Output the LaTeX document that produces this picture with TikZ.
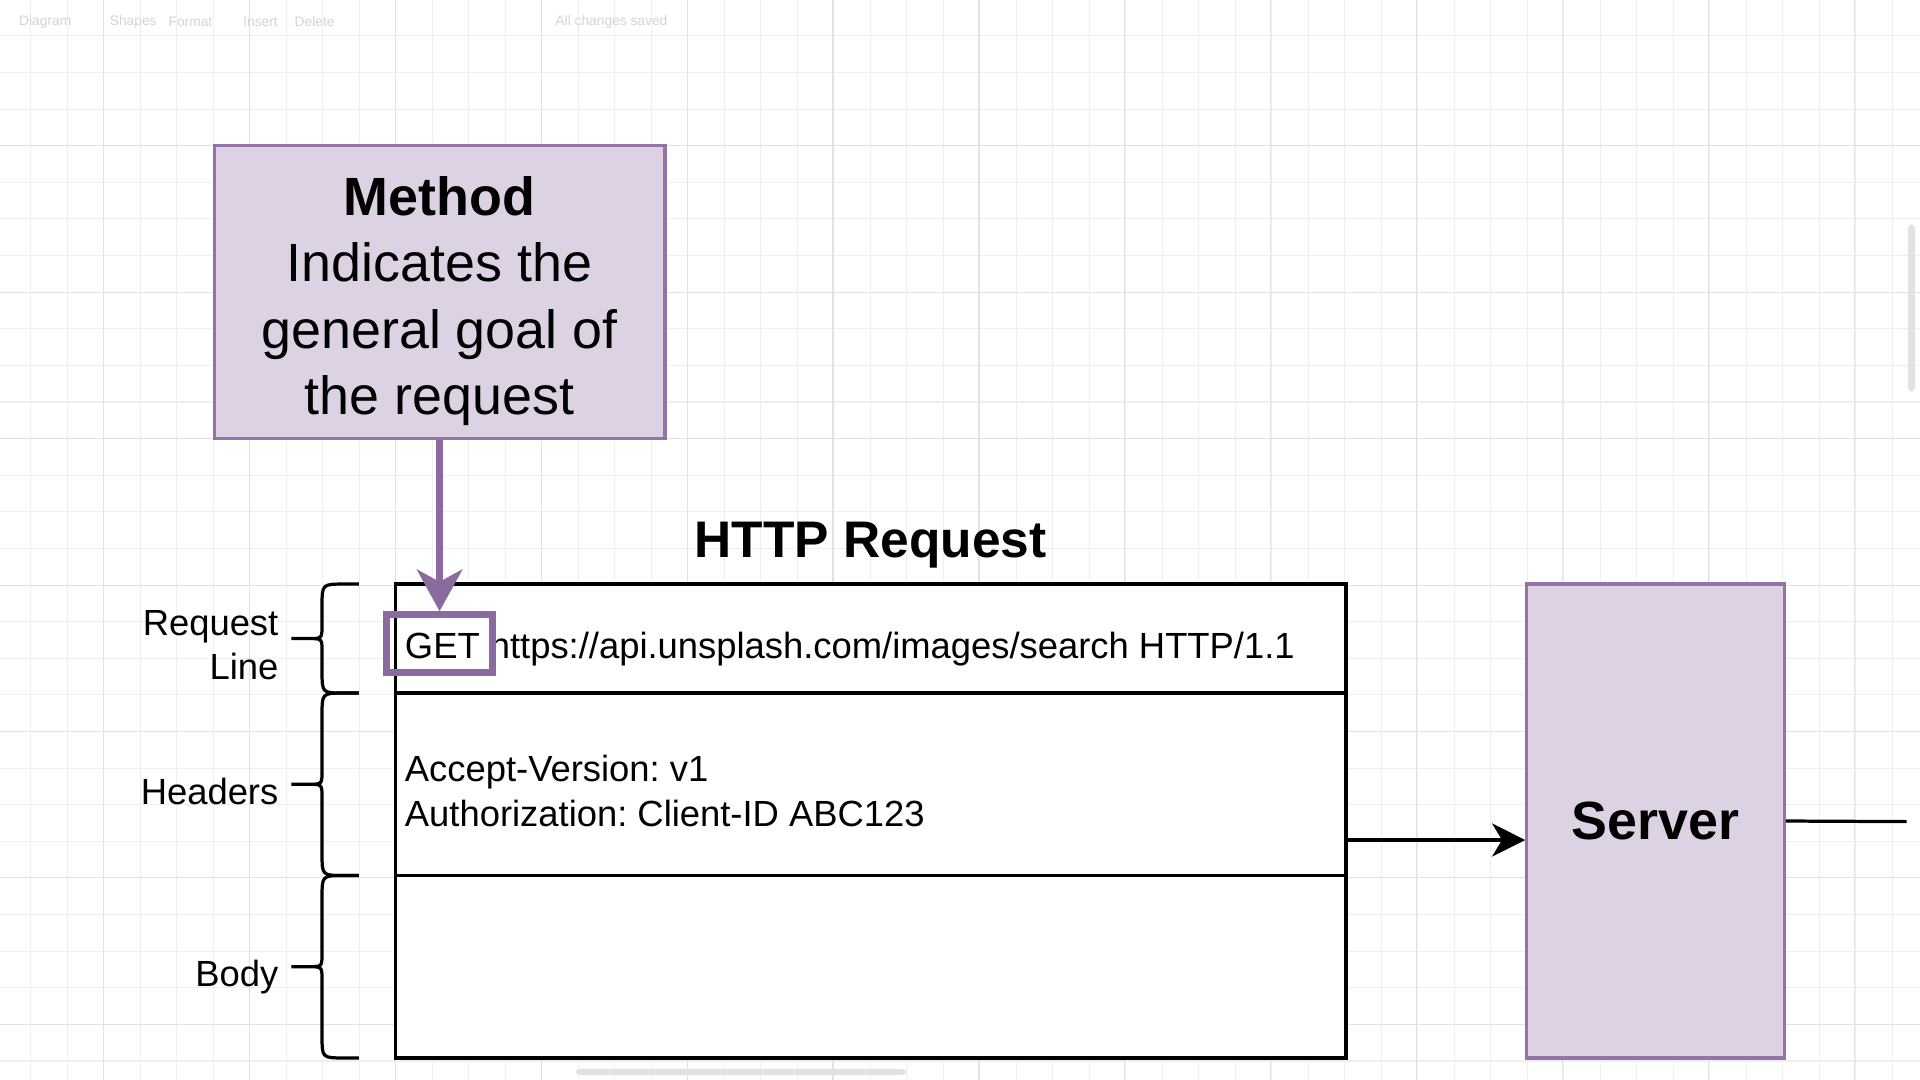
\documentclass[tikz,border=0pt]{standalone}
\usepackage{fontspec}
\setmainfont{Liberation Sans}
\usetikzlibrary{arrows.meta,positioning}
\definecolor{methodfill}{HTML}{DDD1E4}
\definecolor{methodline}{HTML}{9673A6}
\definecolor{pointer}{HTML}{8A6BA0}
\definecolor{gridminor}{HTML}{EFEFEF}
\definecolor{gridmajor}{HTML}{E2E2E2}
\definecolor{uitext}{HTML}{D4D4D4}
\frenchspacing
\tikzset{
  purplebox/.style={draw=methodline, fill=methodfill, line width=0.75pt, inner sep=0pt},
  rowbox/.style={draw=black, fill=white, line width=0.75pt, minimum width=7.76cm, inner sep=0pt},
  bigtext/.style={font=\fontsize{12.5}{15.4}\selectfont},
  smalltext/.style={font=\fontsize{8.45}{10.24}\selectfont, inner sep=0pt},
  bracket/.style={line width=0.75pt},
  gridline/.style={line width=0.25pt},
  toolbar/.style={font=\fontsize{3.2}{4}\selectfont, text=uitext, anchor=west, inner sep=0pt},
}
\begin{document}
\begin{tikzpicture}[x=0.01cm, y=-0.01cm]
  % Canvas and grid
  \fill[white] (0,0) rectangle (1568,882);
  \useasboundingbox (0,0) rectangle (1568,882);
  \foreach \x in {25.1,54.91,...,1568} {
    \draw[gridline, gridminor] (\x,0) -- (\x,882); % minor columns
  }
  \foreach \y in {29.3,59.2,...,882} {
    \draw[gridline, gridminor] (0,\y) -- (1568,\y); % minor rows
  }
  \foreach \x in {84.3,203.5,...,1568} {
    \draw[gridline, gridmajor] (\x,0) -- (\x,882);
  }
  \foreach \y in {119,238.6,...,882} {
    \draw[gridline, gridmajor] (0,\y) -- (1568,\y);
  }

  % Faint editor toolbar and scroll bars
  \foreach \x/\name [count=\i] in {15/Diagram, 89/Shapes, 137/Format, 198/Insert, 240/Delete, 453/All changes saved} {
    \node[toolbar] (tool\i) at (\x,18) {\name};
  }
  \fill[gridmajor, rounded corners=1pt] (1558,183) rectangle (1564,320);
  \fill[gridmajor, rounded corners=1pt] (470,873) rectangle (740,878);

  % Method box
  \node[purplebox, minimum width=3.68cm, minimum height=2.39cm] (method) at (359,238.5) {};
  \node[bigtext, align=center, inner sep=0pt] (methodtext) at (359,246)
    {\textbf{Method}\\Indicates the\\general goal of\\the request};

  % HTTP request rows
  \node[font=\bfseries\fontsize{11.95}{14}\selectfont] (title) at (711,445) {HTTP Request};
  \node[rowbox, minimum height=0.89cm] (reqline) at (711,521.5) {};
  \node[rowbox, minimum height=1.49cm] (headers) at (711,640.5) {};
  \node[rowbox, minimum height=1.49cm] (body) at (711,789.5) {};
  \node[smalltext, anchor=west] (urltext) at (330,530) {GET https://api.unsplash.com/images/search HTTP/1.1};
  \node[smalltext, anchor=west, align=left] (headertext) at (330,646) {Accept-Version: v1\\Authorization: Client-ID ABC123};
  \node[draw=pointer, line width=1.6pt, minimum width=0.87cm, minimum height=0.47cm, inner sep=0pt] (getbox) at (359,525.5) {};
  \draw[pointer, line width=1.55pt, -{Stealth[length=0.34cm, width=0.37cm, inset=0.1cm]}] (method.south) -- (getbox.north);

  % Brackets and their labels
  \foreach \t/\m/\b in {477/521.5/566, 566/640.5/715, 715/789.5/864} {
    \draw[bracket] (293,\t) -- (281,\t) .. controls (263,\t) .. (263,{\t+18}) -- (263,{\m-11})
      .. controls (263,\m) .. (252,\m) -- (238,\m)
      (252,\m) .. controls (263,\m) .. (263,{\m+11}) -- (263,{\b-18})
      .. controls (263,\b) .. (281,\b) -- (293,\b);
  }
  \node[smalltext, anchor=east, align=right] (lbline) at (228,527) {Request\\Line};
  \node[smalltext, anchor=east] (lbheaders) at (228,646) {Headers};
  \node[smalltext, anchor=east] (lbbody) at (228,798) {Body};

  % Server
  \node[purplebox, minimum width=2.10cm, minimum height=3.87cm, font=\bfseries\fontsize{12.5}{15}\selectfont] (server) at (1352,670.5) {Server};
  \coordinate (out) at ([yshift=-0.455cm]headers.east);
  \draw[line width=0.75pt, -{Stealth[length=0.27cm, width=0.27cm, inset=0.08cm]}] (out) -- (out -| server.west);
  \coordinate (offscreen) at (1557,671);
  \draw[line width=0.75pt] (server.east) -- (offscreen);
\end{tikzpicture}
\end{document}
